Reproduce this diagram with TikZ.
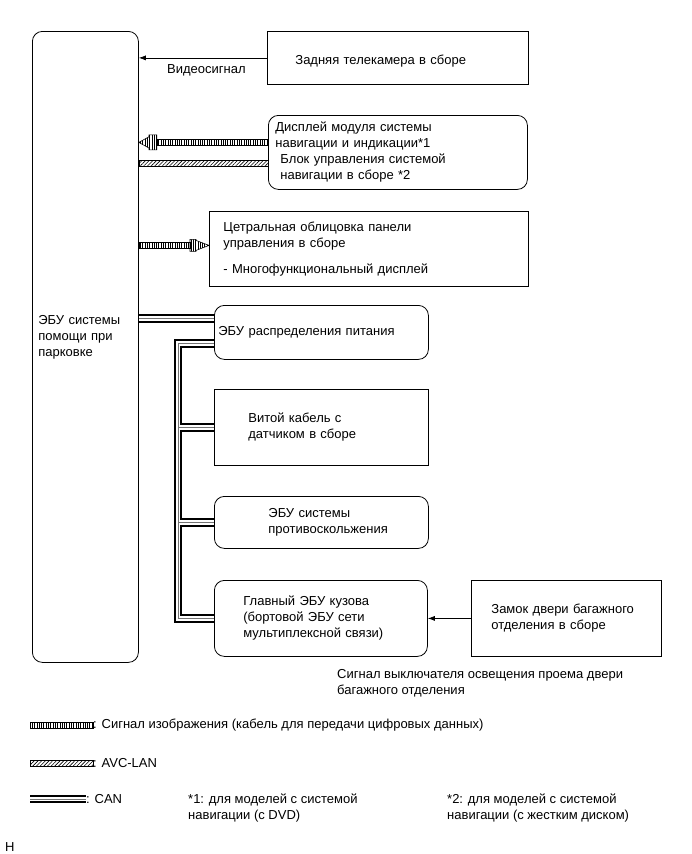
\documentclass[tikz,border=0pt]{standalone}
\usepackage{fontspec}
\setmainfont{Liberation Sans}
\usetikzlibrary{arrows.meta,calc,patterns.meta}

\begin{document}
\begin{tikzpicture}[x=1pt, y=-1pt,
    font=\fontsize{13}{16}\selectfont,
    box/.style={draw, line width=0.8pt, align=left, anchor=north west,
                inner ysep=0pt},
    rbox/.style={box, rounded corners=10pt},
    txt/.style={inner sep=0pt, align=left, anchor=west},
    sig/.style={-{Latex[length=7pt,width=5pt]}, line width=0.7pt},
    can/.style={line width=8.5pt,
                postaction={draw=white, line width=4.5pt},
                postaction={draw=black!55, line width=0.8pt}},
    img/.style={draw, line width=0.6pt,
                pattern={Lines[angle=90,distance=2.3pt,line width=0.45pt]}},
    avc/.style={draw, line width=0.6pt,
                pattern={Lines[angle=45,distance=2.6pt,line width=0.6pt]}}
  ]
  \useasboundingbox (0,0) rectangle (691,854);

  % --- units ------------------------------------------------------------
  \node[rbox, minimum width=106pt, minimum height=631pt, inner xsep=6pt,
        text width=94pt, text depth=53pt] (ecu) at (32,31)
    {ЭБУ системы\\помощи при\\парковке};
  \node[box, minimum width=261pt, minimum height=53pt, inner xsep=28pt,
        text width=205pt, text height=16pt] (cam) at (267,31)
    {Задняя телекамера в сборе};
  \node[rbox, minimum width=259pt, minimum height=74pt, inner xsep=7pt,
        text width=245pt] (disp) at (268,115)
    {Дисплей модуля системы\\навигации и индикации*1\\
     \hspace*{5pt}Блок управления системой\\
     \hspace*{5pt}навигации в сборе *2};
  \node[box, minimum width=319pt, minimum height=75pt, inner xsep=14pt,
        text width=291pt] (cpanel) at (209,211)
    {Цетральная облицовка панели\\управления в сборе\\[10pt]
     - Многофункциональный дисплей};
  \node[rbox, minimum width=214pt, minimum height=54pt, inner xsep=4pt,
        text width=206pt] (power) at (214,305)
    {ЭБУ распределения питания};
  \node[box, minimum width=214pt, minimum height=76pt, inner xsep=34pt,
        text width=146pt] (vitoi) at (214,389)
    {Витой кабель с\\датчиком в сборе};
  \node[rbox, minimum width=214pt, minimum height=52pt, inner xsep=54pt,
        text width=106pt] (anti) at (214,496)
    {ЭБУ системы\\противоскольжения};
  \node[rbox, minimum width=213pt, minimum height=76pt, inner xsep=29pt,
        text width=155pt] (body) at (214,580)
    {Главный ЭБУ кузова\\(бортовой ЭБУ сети\\мультиплексной связи)};
  \node[box, minimum width=190pt, minimum height=76pt, inner xsep=20pt,
        text width=150pt] (lock) at (471,580)
    {Замок двери багажного\\отделения в сборе};

  % --- signals ----------------------------------------------------------
  \draw[sig] (cam.west) -- (cam.west -| ecu.east);
  \node[txt] (vid) at (167,70) {Видеосигнал};

  \path (disp.west) ++(0,-10) coordinate (d1);
  \coordinate (d0) at (ecu.east |- d1);
  \draw[img] ($(d0)+(18,-3)$) rectangle ($(d1)+(0,3)$);
  \draw[img] (d0) -- ++(10,-5.5) -- ++(0,-2) -- ++(8,0) -- ++(0,15)
    -- ++(-8,0) -- ++(0,-2) -- cycle;
  \draw[avc] ($(ecu.east |- disp.west)+(0,8)$) rectangle ($(disp.west)+(0,14)$);

  \path (cpanel.west) ++(0,-3.5) coordinate (c1);
  \coordinate (c0) at (ecu.east |- c1);
  \draw[img] ($(c0)+(0,-3)$) rectangle ($(c1)+(-19,3)$);
  \draw[img] (c1) -- ++(-13,-5) -- ++(0,-1) -- ++(-6,0) -- ++(0,12)
    -- ++(6,0) -- ++(0,-1) -- cycle;

  % CAN bus
  \coordinate (pin) at ($(power.west)+(0,-14)$);
  \draw[can] (ecu.east |- pin) -- (pin);
  \coordinate (bus) at (178,0);
  \draw[can] ($(power.west)+(0,11)$) -| (bus |- body.west) -- (body.west)
    (bus |- vitoi.west) -- (vitoi.west)
    (bus |- anti.west) -- (anti.west);

  \draw[sig] (lock.west) -- (lock.west -| body.east);
  \node[txt] (door) at (337,683.5)
    {Сигнал выключателя освещения проема двери\\багажного отделения};

  % --- legend -----------------------------------------------------------
  \draw[img] (30,722) rectangle (93,728);
  \node[txt] (lgimg) at (93,725)
    {: Сигнал изображения (кабель для передачи цифровых данных)};
  \draw[avc] (30,760) rectangle (93,766);
  \node[txt] (lgavc) at (93,763) {: AVC-LAN};
  \draw[can] (30,799) -- (86,799);
  \node[txt] (lgcan) at (86,799) {: CAN};
  \node[txt] (note1) at (188,808)
    {*1: для моделей с системой\\навигации (с DVD)};
  \node[txt] (note2) at (447,808)
    {*2: для моделей с системой\\навигации (с жестким диском)};
  \node[txt] (mark) at (5,847) {H};
\end{tikzpicture}
\end{document}
